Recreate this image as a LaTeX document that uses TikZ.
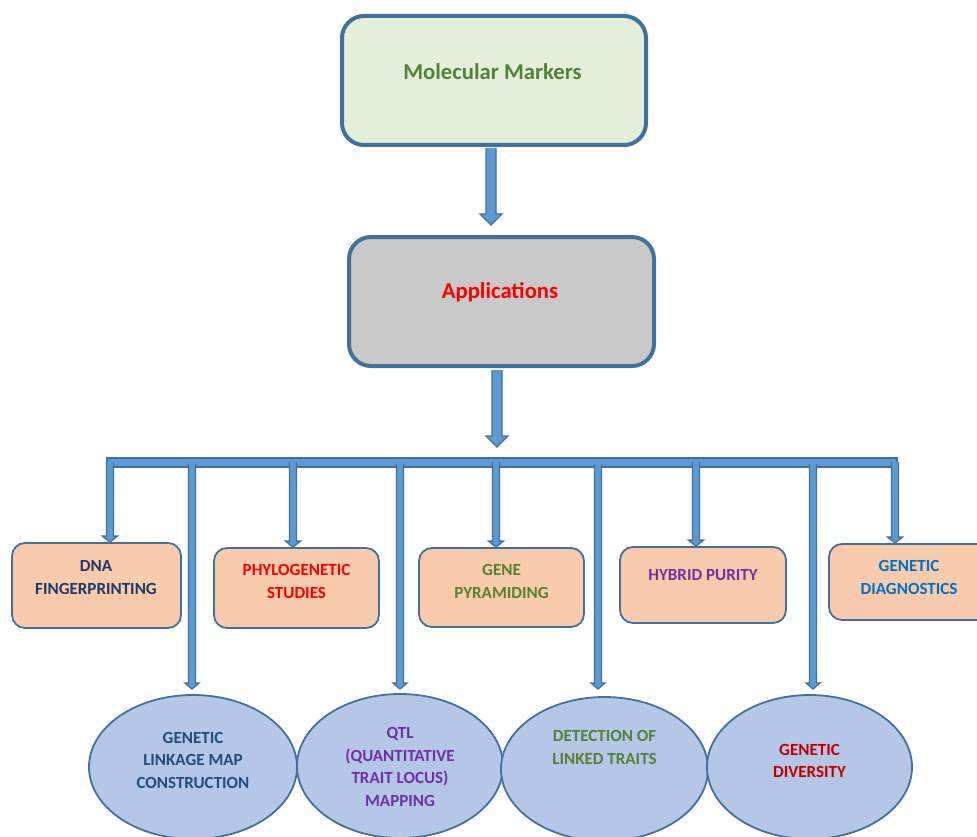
\documentclass[tikz,border=0pt]{standalone}
\usepackage{fontspec}
\setmainfont{Carlito}
\usetikzlibrary{calc,shapes.geometric}
\definecolor{bord}{HTML}{41719C}
\definecolor{arrfillc}{HTML}{5B9BD5}
\definecolor{greenfill}{HTML}{E2F0D9}
\definecolor{grayfill}{HTML}{C9C9C9}
\definecolor{peach}{HTML}{F8CBAD}
\definecolor{ellfill}{HTML}{B4C7E7}
\definecolor{tgreen}{HTML}{538135}
\definecolor{tnavy}{HTML}{1F3864}
\definecolor{tdblue}{HTML}{1F4E79}
\definecolor{tpurple}{HTML}{7030A0}
\definecolor{tblue}{HTML}{0070C0}
\definecolor{tdred}{HTML}{C00000}
\newcommand\blockarrow[5]{%
  \fill[arrfillc] let \p1=(#1),\p2=(#2) in
    (\x1-#3,\y1) -- (\x1+#3,\y1) -- (\x1+#3,\y2+#5) -- (\x1+#4,\y2+#5) -- (\x1,\y2)
    -- (\x1-#4,\y2+#5) -- (\x1-#3,\y2+#5) -- cycle;
  \draw[bord,line width=1.3pt,line join=miter] let \p1=(#1),\p2=(#2) in
    (\x1-#3,\y1) -- (\x1-#3,\y2+#5) -- (\x1-#4,\y2+#5) -- (\x1,\y2)
    -- (\x1+#4,\y2+#5) -- (\x1+#3,\y2+#5) -- (\x1+#3,\y1);
}
\begin{document}
\begin{tikzpicture}[x=1pt,y=-1pt,
  bigbox/.style={draw=bord,line width=4pt,rounded corners=22pt,inner sep=0pt},
  smallbox/.style={draw=bord,fill=peach,line width=1.8pt,rounded corners=13pt,inner sep=0pt},
  oval/.style={ellipse,draw=bord,fill=ellfill,line width=1.8pt,inner sep=0pt,minimum height=144pt},
  bigtxt/.style={font=\fontsize{22.7}{27}\selectfont\bfseries},
  smalltxt/.style={font=\fontsize{17}{22.5}\selectfont\bfseries,align=center,inner sep=0pt}
]
\useasboundingbox (0,0) rectangle (977,837);

% top boxes
\node[bigbox,fill=greenfill,minimum width=304pt,minimum height=129pt] (mm) at (494,80.5) {};
\node[bigtxt,text=tgreen] (mmt) at (492.5,72) {Molecular Markers};
\node[bigbox,fill=grayfill,minimum width=305pt,minimum height=129pt] (app) at (501.5,301.5) {};
\node[bigtxt,text=red] (appt) at (500,292) {Applications};

% main arrows
\coordinate (a1s) at (491,148);
\coordinate (a1e) at (491,225);
\coordinate (a2s) at (497,370);
\coordinate (a2e) at (497,447);
\blockarrow{a1s}{a1e}{5pt}{11pt}{11pt}
\blockarrow{a2s}{a2e}{5pt}{11pt}{11pt}

% bus bar
\coordinate (busL) at (107,458);
\coordinate (busR) at (897,467);
\filldraw[fill=arrfillc,draw=bord,line width=1.3pt] (busL) rectangle (busR);

% rectangles
\node[smallbox,minimum width=169pt,minimum height=85pt] (r1) at (96.5,585.5) {};
\node[smallbox,minimum width=165pt,minimum height=80pt] (r2) at (296.5,588) {};
\node[smallbox,minimum width=165pt,minimum height=79pt] (r3) at (501.5,587.5) {};
\node[smallbox,minimum width=166pt,minimum height=76pt] (r4) at (703,585) {};
\node[smallbox,minimum width=165pt,minimum height=76pt] (r5) at (911.5,582) {};

\node[smalltxt,text=tnavy] (r1t) at (96,577.5) {DNA\\FINGERPRINTING};
\node[smalltxt,text=red] (r2t) at (296.5,581.5) {PHYLOGENETIC\\STUDIES};
\node[smalltxt,text=tgreen] (r3t) at (501.5,581.5) {GENE\\PYRAMIDING};
\node[smalltxt,text=tpurple] (r4t) at (703,575) {HYBRID PURITY};
\node[smalltxt,text=tblue] (r5t) at (909,577.5) {GENETIC\\DIAGNOSTICS};

% ellipses
\node[oval,minimum width=208pt] (e1) at (193,767) {};
\node[oval,minimum width=206pt] (e2) at (400,766) {};
\node[oval,minimum width=207pt] (e3) at (604.5,769) {};
\node[oval,minimum width=205pt] (e4) at (809.5,767) {};

\node[smalltxt,text=tdblue] (e1t) at (193,760) {GENETIC\\LINKAGE MAP\\CONSTRUCTION};
\node[smalltxt,text=tpurple] (e2t) at (400,767) {QTL\\(QUANTITATIVE\\TRAIT LOCUS)\\MAPPING};
\node[smalltxt,text=tgreen] (e3t) at (604.5,747.5) {DETECTION OF\\LINKED TRAITS};
\node[smalltxt,text=tdred] (e4t) at (809.5,761) {GENETIC\\DIVERSITY};

% drops to rectangles
\foreach \xx/\nm in {110/r1,293/r2,496/r3,696/r4,895/r5}{
  \coordinate (ds\nm) at (\xx,462);
  \coordinate (de\nm) at (\nm.north -| ds\nm);
  \blockarrow{ds\nm}{de\nm}{3.5pt}{7.5pt}{6pt}
}
% drops to ellipses
\foreach \xx/\nm in {192/e1,400/e2,598/e3,813/e4}{
  \coordinate (ds\nm) at (\xx,464);
  \coordinate (de\nm) at (\xx,689);
  \blockarrow{ds\nm}{de\nm}{3.5pt}{7pt}{6pt}
}
\end{tikzpicture}
\end{document}
